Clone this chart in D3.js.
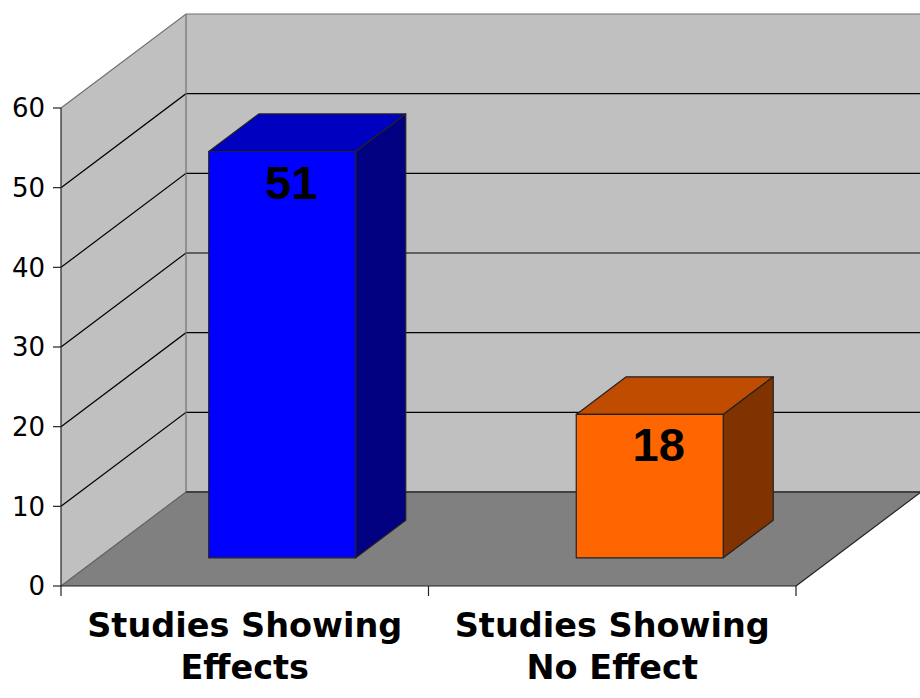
<!DOCTYPE html>
<html>
<head>
<meta charset="utf-8">
<script src="https://cdn.jsdelivr.net/npm/d3@7"></script>
<style>
  body { margin: 0; background: #fff; }
  svg { display: block; }
</style>
</head>
<body>
<svg id="chart" width="920" height="698"></svg>
<script>
// data
var categories = [['Studies Showing', 'Effects'], ['Studies Showing', 'No Effect']];
var values = [51, 18];
var barColors = [
	{ front: '#0000ff', top: '#0000c0', side: '#000080' },
	{ front: '#ff6600', top: '#c04c00', side: '#803300' }
];
var yTicks = [0, 10, 20, 30, 40, 50, 60];

var svg = d3.select('#chart');

var y = d3.scaleLinear().domain([0, 60]).range([586, 108]);
var x = d3.scaleBand().domain(d3.range(categories.length)).range([61, 796]);
var depth = { dx: 125, dy: -94 }; // full floor depth

// project a point at (px, value, z) where z is 0..1 of the depth
function proj(px, v, z) {
	return [px + z * depth.dx, y(v) + z * depth.dy];
}
function poly(pts) {
	return 'M' + pts.map(function(p) { return p.join(','); }).join('L') + 'Z';
}

var x0 = x.range()[0], x1 = x.range()[1];

// back wall
svg.append('path')
	.attr('d', poly([proj(x0, 60, 1), proj(x1, 60, 1), proj(x1, 0, 1), proj(x0, 0, 1)]))
	.attr('fill', '#c0c0c0');
// left wall
svg.append('path')
	.attr('d', poly([proj(x0, 60, 0), proj(x0, 60, 1), proj(x0, 0, 1), proj(x0, 0, 0)]))
	.attr('fill', '#c0c0c0');
// floor
svg.append('path')
	.attr('d', poly([proj(x0, 0, 0), proj(x0, 0, 1), proj(x1, 0, 1), proj(x1, 0, 0)]))
	.attr('fill', '#808080');

// gridlines
var grid = svg.append('g');
yTicks.filter(function(t) { return t > 0 && t < 60; }).forEach(function(t) {
	var a = proj(x0, t, 0), b = proj(x0, t, 1), c = proj(x1, t, 1);
	grid.append('path')
		.attr('d', 'M' + a + 'L' + b + 'L' + c)
		.attr('fill', 'none')
		.attr('stroke', '#000')
		.attr('stroke-width', 1.2);
});

// wall edges
var edges = svg.append('g').attr('fill', 'none').attr('stroke-width', 1.2);
edges.append('path')
	.attr('d', 'M' + proj(x0, 60, 0) + 'L' + proj(x0, 60, 1) + 'L' + proj(x1, 60, 1))
	.attr('stroke', '#707070');
edges.append('path')
	.attr('d', 'M' + proj(x0, 60, 1) + 'L' + proj(x0, 0, 1))
	.attr('stroke', '#707070');
edges.append('path')
	.attr('d', 'M' + proj(x0, 0, 0) + 'L' + proj(x0, 0, 1))
	.attr('stroke', '#606060');
edges.append('path')
	.attr('d', 'M' + proj(x0, 0, 1) + 'L' + proj(x1, 0, 1))
	.attr('stroke', '#404040')
	.attr('stroke-width', 2);
edges.append('path')
	.attr('d', 'M' + proj(x1, 0, 0) + 'L' + proj(x1, 0, 1))
	.attr('stroke', '#222');

// bars
var zFront = 0.3, zBack = 0.7, barFrac = 0.4;
var bw = x.bandwidth() * barFrac;
var bars = svg.append('g').attr('stroke', '#222').attr('stroke-width', 1.2).attr('stroke-linejoin', 'round');
values.forEach(function(v, i) {
	var left = x(i) + (x.bandwidth() - bw) / 2;
	var right = left + bw;
	var col = barColors[i];
	// top
	bars.append('path')
		.attr('d', poly([proj(left, v, zFront), proj(left, v, zBack), proj(right, v, zBack), proj(right, v, zFront)]))
		.attr('fill', col.top);
	// side
	bars.append('path')
		.attr('d', poly([proj(right, v, zFront), proj(right, v, zBack), proj(right, 0, zBack), proj(right, 0, zFront)]))
		.attr('fill', col.side);
	// front
	bars.append('path')
		.attr('d', poly([proj(left, v, zFront), proj(right, v, zFront), proj(right, 0, zFront), proj(left, 0, zFront)]))
		.attr('fill', col.front);
	// value label
	var c = proj((left + right) / 2, v, zFront);
	svg.append('text')
		.attr('x', c[0] + 9)
		.attr('y', c[1] + 47)
		.attr('text-anchor', 'middle')
		.attr('font-family', '"Liberation Sans", Arial, sans-serif')
		.attr('font-weight', 'bold')
		.attr('font-size', 47)
		.attr('fill', '#000')
		.text(v);
});

// value axis
var axis = svg.append('g').attr('stroke', '#222').attr('stroke-width', 1.2);
axis.append('line')
	.attr('x1', x0).attr('x2', x0)
	.attr('y1', y(60)).attr('y2', y(0));
yTicks.forEach(function(t) {
	axis.append('line')
		.attr('x1', x0 - 8).attr('x2', x0)
		.attr('y1', y(t)).attr('y2', y(t));
	svg.append('text')
		.attr('x', x0 - 16)
		.attr('y', y(t))
		.attr('dy', '0.36em')
		.attr('text-anchor', 'end')
		.attr('font-family', '"DejaVu Sans", Verdana, sans-serif')
		.attr('font-size', 26)
		.attr('fill', '#000')
		.text(t);
});

// category axis
axis.append('line')
	.attr('x1', x0).attr('x2', x1)
	.attr('y1', y(0)).attr('y2', y(0));
d3.range(categories.length + 1).forEach(function(i) {
	var px = i < categories.length ? x(i) : x1;
	axis.append('line')
		.attr('x1', px).attr('x2', px)
		.attr('y1', y(0)).attr('y2', y(0) + 10);
});
categories.forEach(function(lines, i) {
	var t = svg.append('text')
		.attr('text-anchor', 'middle')
		.attr('font-family', '"DejaVu Sans", Verdana, sans-serif')
		.attr('font-weight', 'bold')
		.attr('font-size', 33.5)
		.attr('fill', '#000');
	lines.forEach(function(s, j) {
		t.append('tspan')
			.attr('x', x(i) + x.bandwidth() / 2)
			.attr('y', 637 + j * 42)
			.text(s);
	});
});
</script>
</body>
</html>
